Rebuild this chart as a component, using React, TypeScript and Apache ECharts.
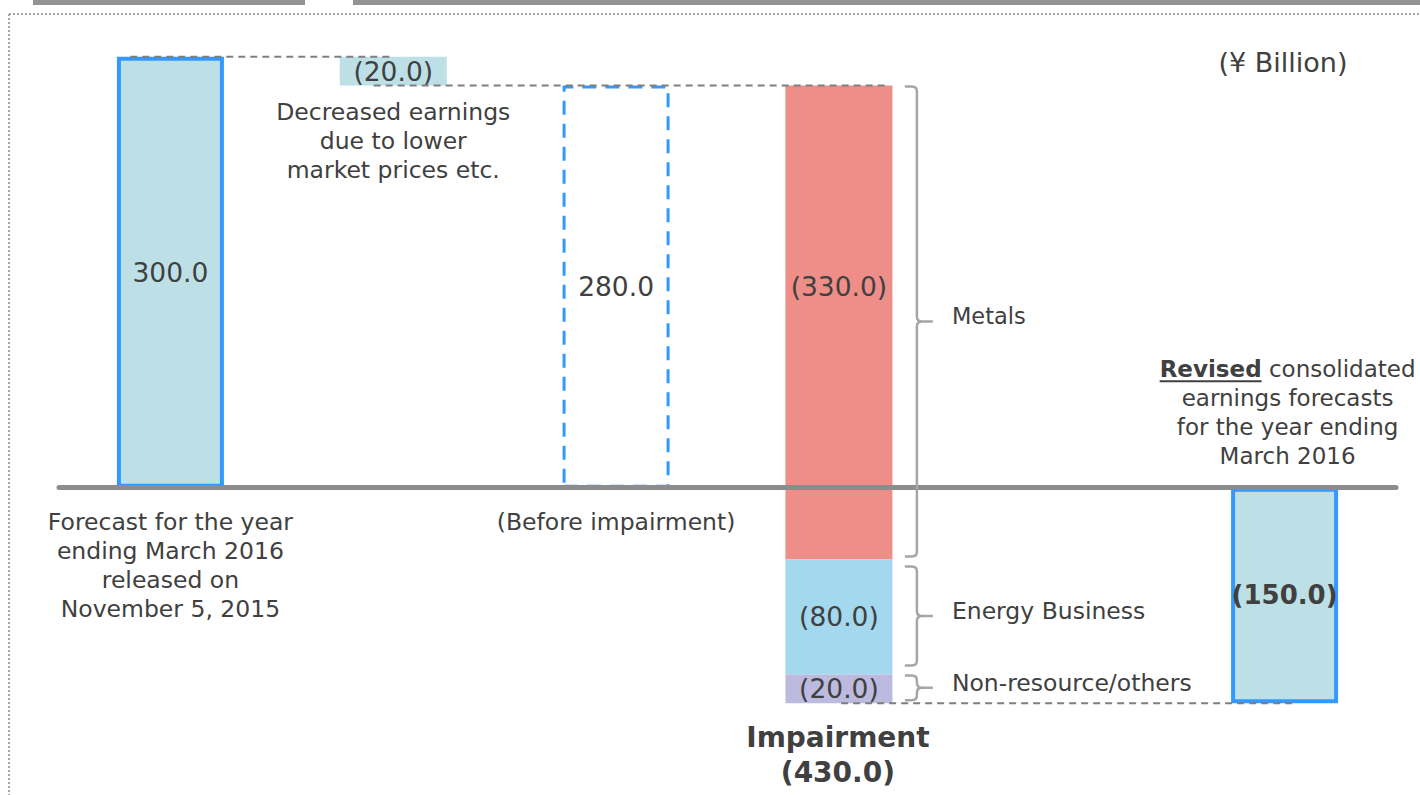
import React, { useEffect, useRef } from "react";
import * as echarts from "echarts";

// ---------- data ----------
const categories = [
  "Forecast for the year\nending March 2016\nreleased on\nNovember 5, 2015",
  "Decreased earnings\ndue to lower\nmarket prices etc.",
  "(Before impairment)",
  "Impairment",
  "",
  "Revised consolidated\nearnings forecasts\nfor the year ending\nMarch 2016",
];
const forecastValue = 300.0;
const decreaseValue = -20.0;
const beforeImpairmentValue = 280.0;
const impairmentNames = ["Metals", "Energy Business", "Non-resource/others"];
const impairmentValues = [-330.0, -80.0, -20.0];
const revisedValue = -150.0;
const unitText = "(¥ Billion)";

// ---------- styles ----------
const TEXT = "#404040";
const TEAL = "#BCE0E5";
const BLUE = "#3399FF";
const METALS = "#EF8E89";
const ENERGY = "#A3D8EE";
const NONRES = "#BDBADF";
const SANS = "'DejaVu Sans', Verdana, sans-serif";
const STACK = "waterfall";
const BAR_W = 107;
const TXT = 23.5; // descriptive text size
const NUM = 26.5; // value label size

const fmt = (v: number) => (v < 0 ? `(${Math.abs(v).toFixed(1)})` : v.toFixed(1));

const I_FORECAST = 0;
const I_DECREASE = 1;
const I_BEFORE = 2;
const I_IMPAIR = 3;
const I_REVISED = 5;

const blank = () => categories.map(() => "-" as any);
const at = (idx: number, v: any) => {
  const arr = blank();
  arr[idx] = v;
  return arr;
};

const measure = (text: string, font: string) => {
  const ctx = document.createElement("canvas").getContext("2d");
  if (!ctx) return text.length * 12;
  ctx.font = font;
  return ctx.measureText(text).width;
};

function buildOption() {
  const impairmentTotal = impairmentValues.reduce((a, b) => a + b, 0);
  // cumulative segments of the impairment bar
  const segs: [number, number][] = [];
  let cur = beforeImpairmentValue;
  impairmentValues.forEach((v) => {
    segs.push([cur, cur + v]);
    cur += v;
  });
  const metalsPos = Math.max(0, segs[0][0]);
  const metalsNeg = Math.min(0, segs[0][1]);

  const connectorRows = [
    [I_FORECAST, I_DECREASE, forecastValue],
    [I_DECREASE, I_IMPAIR, beforeImpairmentValue],
    [I_IMPAIR, I_REVISED, revisedValue],
  ];
  const CONNECTOR_OFFSETS = [
    [-0.18, 0],
    [-0.088, 0.22],
    [0.01, 0.05],
  ];
  const braceRows = segs.map((s) => [I_IMPAIR, s[0], s[1]]);
  const BRACE_INSETS = [
    [1, 3],
    [7, 9],
    [1, 3],
  ];
  const noteRows = [
    [I_FORECAST, 0],
    [I_BEFORE, 0],
    [I_IMPAIR, beforeImpairmentValue + impairmentTotal],
    [I_REVISED, 0],
  ];

  const valueLabel = (size: number, extra: any = {}) => ({
    show: true,
    position: "inside",
    color: TEXT,
    fontFamily: SANS,
    fontSize: size,
    ...extra,
  });

  const revisedLines = categories[I_REVISED].split("\n");
  const firstWords = revisedLines[0].split(" ");
  const boldWord = firstWords[0];
  const restFirst = " " + firstWords.slice(1).join(" ");
  const revisedRich =
    `{b|${boldWord}}{n|${restFirst}}\n` + revisedLines.slice(1).map((l) => `{n|${l}}`).join("\n");

  return {
    animation: false,
    grid: { left: 59, top: 28, width: 1337, height: 747, outerBoundsMode: "none", containLabel: false },
    xAxis: {
      type: "category",
      data: categories,
      z: 3,
      axisLine: { onZero: true, lineStyle: { color: "#8C8C8C", width: 5 } },
      axisTick: { show: false },
      splitLine: { show: false },
      axisLabel: { show: false },
    },
    yAxis: { type: "value", min: -200, max: 320, show: false, splitLine: { show: false } },
    series: [
      {
        type: "bar",
        name: "base",
        stack: STACK,
        barWidth: BAR_W,
        silent: true,
        data: at(I_DECREASE, Math.min(forecastValue, forecastValue + decreaseValue)),
        itemStyle: { color: "rgba(0,0,0,0)" },
        label: {
          show: true,
          position: "insideTop",
          distance: 12,
          formatter: categories[I_DECREASE],
          color: TEXT,
          fontFamily: SANS,
          fontSize: TXT,
          lineHeight: 29,
        },
      },
      {
        type: "bar",
        name: "forecast",
        stack: STACK,
        barWidth: BAR_W,
        data: (() => {
          const arr = blank();
          arr[I_FORECAST] = { value: forecastValue };
          arr[I_REVISED] = {
            value: revisedValue,
            label: { fontWeight: "bold", fontSize: 26 },
          };
          return arr;
        })(),
        itemStyle: { color: TEAL, borderColor: BLUE, borderWidth: 4 },
        label: valueLabel(NUM, { formatter: (p: any) => fmt(p.value) }),
      },
      {
        type: "bar",
        name: "decrease",
        stack: STACK,
        barWidth: BAR_W,
        data: at(I_DECREASE, Math.abs(decreaseValue)),
        itemStyle: { color: TEAL },
        label: valueLabel(NUM, { formatter: () => fmt(decreaseValue) }),
      },
      {
        type: "bar",
        name: "before",
        stack: STACK,
        barWidth: BAR_W,
        data: at(I_BEFORE, beforeImpairmentValue),
        itemStyle: { color: "rgba(255,255,255,0)", borderColor: BLUE, borderWidth: 3, borderType: [14, 9] },
        label: valueLabel(NUM, { formatter: (p: any) => fmt(p.value) }),
      },
      {
        type: "bar",
        name: "metalsPos",
        stack: STACK,
        barWidth: BAR_W,
        data: at(I_IMPAIR, metalsPos),
        itemStyle: { color: METALS },
        label: valueLabel(NUM, { formatter: () => fmt(impairmentValues[0]) }),
      },
      {
        type: "bar",
        name: "metalsNeg",
        stack: STACK,
        barWidth: BAR_W,
        data: at(I_IMPAIR, metalsNeg),
        itemStyle: { color: METALS },
      },
      {
        type: "bar",
        name: "energy",
        stack: STACK,
        barWidth: BAR_W,
        data: at(I_IMPAIR, impairmentValues[1]),
        itemStyle: { color: ENERGY },
        label: valueLabel(NUM, { formatter: () => fmt(impairmentValues[1]) }),
      },
      {
        type: "bar",
        name: "nonres",
        stack: STACK,
        barWidth: BAR_W,
        data: at(I_IMPAIR, impairmentValues[2]),
        itemStyle: { color: NONRES },
        label: valueLabel(NUM, { formatter: () => fmt(impairmentValues[2]) }),
      },
      {
        type: "custom",
        name: "connectors",
        z: 4,
        silent: true,
        data: connectorRows,
        encode: { x: 0, y: 2 },
        renderItem: (params: any, api: any) => {
          const band = api.size([1, 0])[0];
          const off = CONNECTOR_OFFSETS[params.dataIndex];
          const v = api.value(2);
          const p1 = api.coord([api.value(0), v]);
          const p2 = api.coord([api.value(1), v]);
          return {
            type: "line",
            shape: { x1: p1[0] + off[0] * band, y1: p1[1], x2: p2[0] + off[1] * band, y2: p2[1] },
            style: { stroke: "#7F7F7F", lineWidth: 2, lineDash: [7, 5] },
          };
        },
      },
      {
        type: "custom",
        name: "braces",
        z: 4,
        silent: true,
        data: braceRows,
        encode: { x: 0, y: 1 },
        renderItem: (params: any, api: any) => {
          const i = params.dataIndex;
          const band = api.size([1, 0])[0];
          const pA = api.coord([api.value(0), api.value(1)]);
          const pB = api.coord([api.value(0), api.value(2)]);
          const cx = pA[0];
          const top = pA[1] + BRACE_INSETS[i][0];
          const bot = pB[1] - BRACE_INSETS[i][1];
          const mid = (top + bot) / 2;
          const X = cx + 0.35 * band;
          const hook = 12;
          const nub = 16;
          const r = 5;
          const d =
            `M${X - hook},${top} L${X - r},${top} Q${X},${top} ${X},${top + r} ` +
            `L${X},${mid - r} Q${X},${mid} ${X + r},${mid} L${X + nub},${mid} ` +
            `M${X + r},${mid} Q${X},${mid} ${X},${mid + r} ` +
            `L${X},${bot - r} Q${X},${bot} ${X - r},${bot} L${X - hook},${bot}`;
          return {
            type: "group",
            children: [
              {
                type: "path",
                shape: { pathData: d },
                style: { stroke: "#A6A6A6", lineWidth: 2.5, fill: "none" },
              },
              {
                type: "text",
                x: cx + 0.507 * band,
                y: mid - 5,
                style: {
                  text: impairmentNames[i],
                  fill: TEXT,
                  fontFamily: SANS,
                  fontSize: i === 0 ? 22.5 : TXT,
                  align: "left",
                  verticalAlign: "middle",
                },
              },
            ],
          };
        },
      },
      {
        type: "custom",
        name: "notes",
        z: 4,
        silent: true,
        data: noteRows,
        encode: { x: 0, y: 1 },
        renderItem: (params: any, api: any) => {
          const cat = api.value(0);
          const p = api.coord([cat, api.value(1)]);
          if (cat === I_FORECAST || cat === I_BEFORE) {
            return {
              type: "text",
              x: p[0],
              y: p[1] + 20,
              style: {
                text: categories[cat],
                fill: TEXT,
                fontFamily: SANS,
                fontSize: TXT,
                lineHeight: 29,
                align: "center",
                verticalAlign: "top",
              },
            };
          }
          if (cat === I_IMPAIR) {
            return {
              type: "text",
              x: p[0] - 1,
              y: p[1] + 17,
              style: {
                text: `${categories[I_IMPAIR]}\n${fmt(impairmentTotal)}`,
                fill: TEXT,
                fontFamily: SANS,
                fontWeight: "bold",
                fontSize: 28,
                lineHeight: 35,
                align: "center",
                verticalAlign: "top",
              },
            };
          }
          const fs = 23;
          const lh = 29;
          const cx = p[0] + 3;
          const bottom = p[1] - 17;
          const topY = bottom - lh * revisedLines.length;
          const wb = measure(boldWord, `bold ${fs}px 'DejaVu Sans'`);
          const wn = measure(restFirst, `${fs}px 'DejaVu Sans'`);
          const left = cx - (wb + wn) / 2;
          const uy = topY + lh / 2 + 12;
          return {
            type: "group",
            children: [
              {
                type: "text",
                x: cx,
                y: bottom,
                style: {
                  text: revisedRich,
                  align: "center",
                  verticalAlign: "bottom",
                  rich: {
                    b: { fontFamily: SANS, fontWeight: "bold", fontSize: fs, lineHeight: lh, fill: TEXT },
                    n: { fontFamily: SANS, fontSize: fs, lineHeight: lh, fill: TEXT },
                  },
                },
              },
              {
                type: "line",
                shape: { x1: left, y1: uy, x2: left + wb, y2: uy },
                style: { stroke: TEXT, lineWidth: 2 },
              },
            ],
          };
        },
      },
    ],
    graphic: [
      { type: "rect", silent: true, shape: { x: 33, y: 0, width: 272, height: 5 }, style: { fill: "#939393" } },
      { type: "rect", silent: true, shape: { x: 353, y: 0, width: 1067, height: 5 }, style: { fill: "#939393" } },
      {
        type: "line",
        silent: true,
        shape: { x1: 9, y1: 14, x2: 1420, y2: 14 },
        style: { stroke: "#A6A6A6", lineWidth: 2, lineDash: [2, 2] },
      },
      {
        type: "line",
        silent: true,
        shape: { x1: 9, y1: 14, x2: 9, y2: 795 },
        style: { stroke: "#A6A6A6", lineWidth: 2, lineDash: [2, 2] },
      },
      {
        type: "text",
        silent: true,
        x: 1283,
        y: 62,
        style: {
          text: unitText,
          fill: TEXT,
          fontFamily: SANS,
          fontSize: 27,
          align: "center",
          verticalAlign: "middle",
        },
      },
    ],
  };
}

export default function App() {
  const ref = useRef<HTMLDivElement>(null);
  useEffect(() => {
    if (!ref.current) return;
    const chart = echarts.init(ref.current, undefined, { renderer: "svg" });
    chart.setOption(buildOption() as any);
    return () => chart.dispose();
  }, []);
  return (
    <div
      ref={ref}
      style={{ position: "fixed", left: 0, top: 0, width: 1420, height: 795, background: "#ffffff" }}
    />
  );
}
